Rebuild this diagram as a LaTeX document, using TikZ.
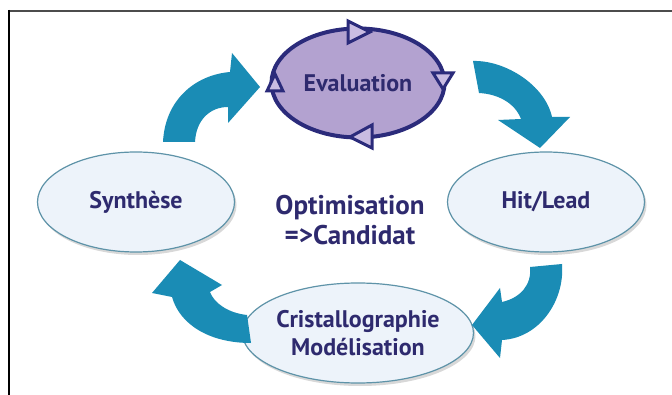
\documentclass[tikz,border=0pt]{standalone}
\usepackage{fontspec}
\setmainfont{PT Sans}
\usetikzlibrary{shapes.geometric,shadows}
\definecolor{navy}{HTML}{2E2A6E}
\definecolor{evfill}{HTML}{B3A2D0}
\definecolor{trifill}{HTML}{C9BCE2}
\definecolor{evline}{HTML}{2B2B7B}
\definecolor{arrowc}{HTML}{1A8CB5}
\definecolor{ellfill}{HTML}{EDF3FA}
\definecolor{elline}{HTML}{5E93A8}
\begin{document}
\begin{tikzpicture}[x=1pt,y=-1pt,
  lbl/.style={font=\fontsize{24}{28}\selectfont\bfseries, text=navy, align=center},
  stage/.style={ellipse, draw=elline, line width=1.2pt, fill=ellfill, inner sep=0pt,
    lbl, drop shadow={shadow xshift=2pt, shadow yshift=-3pt, opacity=0.25, fill=black!60}},
  bigarrow/.style={fill=arrowc, draw=none},
  tri/.style={draw=evline, line width=3pt, fill=trifill, line join=miter}]
\useasboundingbox (0,0) rectangle (672,395);
\fill[white] (0,0) rectangle (672,395);
% frame
\draw[draw=black!70, line width=2.2pt] (8,11) -- (672,11);
\draw[draw=black, line width=1.6pt] (9,10) -- (9,395);

% evaluation
\node[ellipse, draw=evline, line width=4pt, fill=evfill, minimum width=173pt, minimum height=109pt,
  lbl, text=navy] (eval) at (358,83) {Evaluation};
\draw[tri] (348,21) -- (370,32) -- (348,43) -- cycle;
\draw[tri] (433,73) -- (453,73) -- (443,89) -- cycle;
\draw[tri] (372,125) -- (350,137) -- (372,148) -- cycle;
\draw[tri] (267,91) -- (275,74) -- (283,91) -- cycle;

% stages
\node[stage, minimum width=197pt, minimum height=100pt] (syn) at (136,202) {Synthèse};
\node[stage, minimum width=197pt, minimum height=100pt] (hit) at (546,202) {Hit/Lead};
\node[stage, minimum width=196pt, minimum height=100pt] (cri) at (358,333) {Cristallographie\\Modélisation};

% center
\node[lbl, font=\fontsize{27}{30}\selectfont\bfseries] (opt) at (350,220) {Optimisation\\=>Candidat};

% arrows
\fill[bigarrow] (163,142) .. controls (165,100) and (195,75) .. (230,72)
  -- (232,53) -- (260,87) -- (228,123) -- (228,107)
  .. controls (210,107) and (196,120) .. (195,142) -- cycle;
\fill[bigarrow] (473,61) .. controls (505,60) and (545,85) .. (552,117)
  -- (570,117) -- (540,148) -- (498,120) -- (521,119)
  .. controls (515,103) and (498,94) .. (479,93) -- cycle;
\fill[bigarrow] (530,267) -- (562,264) .. controls (565,300) and (540,338) .. (502,340)
  -- (500,358) -- (472,325) -- (500,288) -- (502,302)
  .. controls (520,298) and (532,285) .. (530,267) -- cycle;
\fill[bigarrow] (247,315) .. controls (228,313) and (214,303) .. (210,292)
  -- (222,285) -- (180,260) -- (152,293) -- (172,297)
  .. controls (180,325) and (210,343) .. (251,343) -- cycle;
\end{tikzpicture}
\end{document}
